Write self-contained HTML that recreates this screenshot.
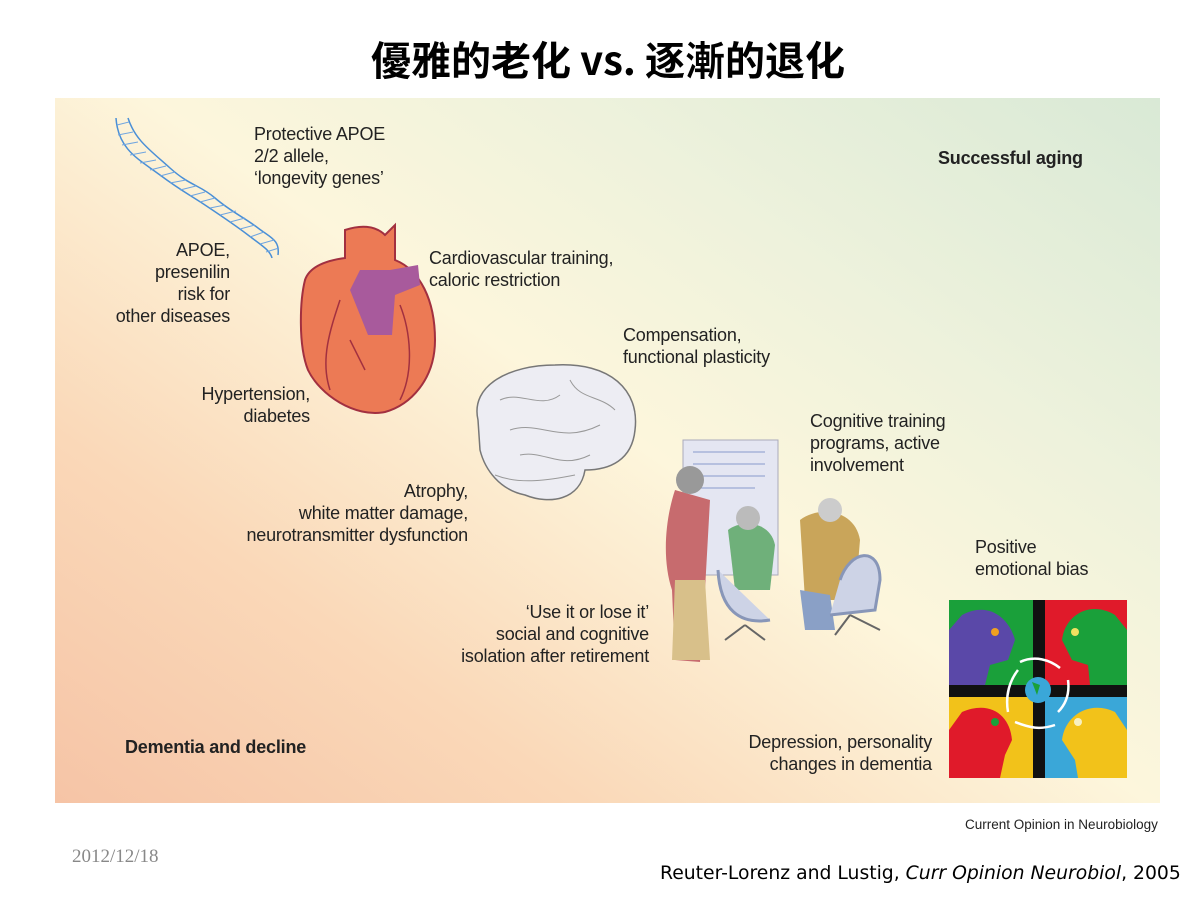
<!DOCTYPE html>
<html><head><meta charset="utf-8">
<style>
*{margin:0;padding:0;box-sizing:border-box}
body{width:1200px;height:900px;background:#fff;position:relative;overflow:hidden;font-family:"Liberation Sans",Arial,sans-serif}
.t{position:absolute;font-size:18px;line-height:22px;color:#222;white-space:nowrap;letter-spacing:-0.2px}
.r{text-align:right}
.b{font-weight:bold;font-size:18px}
#panel{position:absolute;left:55px;top:98px;width:1105px;height:705px;
background:linear-gradient(35deg,#f6c4a6 0%,#fad8b8 25%,#fdf6dc 52%,#eef2dc 72%,#d9e9d6 100%)}
</style></head><body>
<div style="position:absolute;left:0;top:30px;width:1200px;text-align:center;font-family:'Noto Sans CJK SC','WenQuanYi Zen Hei',sans-serif;font-size:40px;font-weight:bold;color:#000;line-height:56px;padding-left:16px">優雅的老化 vs. 逐漸的退化</div>
<div id="panel"></div>
<svg style="position:absolute;left:0;top:0" width="1200" height="900">
 <g fill="none" stroke="#4a8fd6" stroke-width="1.5">
  <path d="M116 118 C118 150 140 160 160 175 S190 195 205 205 S235 225 248 235 S270 250 272 258"/>
  <path d="M128 118 C135 140 150 150 170 168 S200 185 215 198 S245 218 258 228 S280 240 278 255"/>
 </g>
 <g stroke="#6fa5e0" stroke-width="1">
  <path d="M117 125 L129 122 M118 135 L133 132 M122 145 L138 142 M130 155 L146 152 M140 163 L156 160 M150 170 L166 166 M160 176 L175 172 M170 183 L186 180 M180 190 L196 186 M190 196 L205 192 M200 202 L215 198 M210 208 L225 205 M220 215 L236 211 M230 222 L245 218 M240 229 L255 225 M250 237 L264 232 M260 244 L274 240 M266 252 L279 248"/>
 </g>
 <path d="M345 230 C360 225 375 225 385 235 L395 225 L395 260 C420 270 435 300 435 340 C435 380 410 405 385 412 C355 418 320 395 308 370 C298 345 300 300 305 280 C310 265 330 260 345 258 Z" fill="#ec7a55" stroke="#a23040" stroke-width="2"/>
 <path d="M350 290 L360 270 L390 270 L418 265 L420 285 L395 295 L392 335 L368 335 Z" fill="#a85a9c"/>
 <g stroke="#a23040" stroke-width="1.5" fill="none">
  <path d="M340 300 C330 330 320 360 330 390"/><path d="M400 305 C410 330 415 370 400 400"/><path d="M350 340 L365 370"/>
 </g>
 <path d="M478 420 C470 385 510 365 555 365 C610 362 640 390 635 430 C632 460 610 470 585 470 C580 500 550 505 525 495 C500 490 485 470 480 450 Z" fill="#ededf3" stroke="#777" stroke-width="1.5"/>
 <g stroke="#999" fill="none"><path d="M500 400 C520 390 540 410 560 395 M510 430 C540 420 560 445 600 425 M520 455 C545 450 560 470 590 455 M570 380 C580 400 600 395 615 410 M495 475 C520 485 550 480 575 475"/></g>
 <rect x="683" y="440" width="95" height="135" fill="#e4e6f2" stroke="#aab" />
 <g stroke="#8899cc" stroke-width="1"><path d="M693 452 H765 M693 464 H765 M693 476 H765 M693 488 H755"/></g>
 <path d="M675 490 C665 520 662 560 672 590 L675 660 L700 662 L705 590 L710 500 Z" fill="#c76b6e"/>
 <path d="M675 580 L672 660 L710 660 L705 580 Z" fill="#d8c08a"/>
 <circle cx="690" cy="480" r="14" fill="#999"/>
 <path d="M728 530 C740 520 770 520 775 545 L770 590 L735 590 Z" fill="#6fb07a"/>
 <circle cx="748" cy="518" r="12" fill="#bbb"/>
 <path d="M800 520 C820 505 855 510 860 540 L855 600 L805 600 Z" fill="#c9a55a"/>
 <circle cx="830" cy="510" r="12" fill="#ccc"/>
 <path d="M800 590 L805 630 L835 630 L830 595 Z" fill="#8aa0c6"/>
 <path d="M718 570 C720 610 740 625 770 620 M840 580 C850 550 880 545 880 580 L875 610 L830 615" stroke="#8896b8" stroke-width="3" fill="#cdd3e6"/>
 <g stroke="#666" stroke-width="2"><path d="M745 625 L725 640 M745 625 L765 640 M850 615 L835 635 M850 615 L880 630"/></g>
 <g>
  <rect x="949" y="600" width="178" height="178" fill="#111"/>
  <rect x="949" y="600" width="84" height="85" fill="#1aa03a"/>
  <rect x="1045" y="600" width="82" height="85" fill="#e01a2a"/>
  <rect x="949" y="697" width="84" height="81" fill="#f2c21a"/>
  <rect x="1045" y="697" width="82" height="81" fill="#3aa7d8"/>
  <path d="M962 615 C990 600 1010 620 1015 640 L1008 660 L990 665 L985 685 L949 685 L949 630 Z" fill="#5a48a8"/>
  <path d="M1115 615 C1090 600 1065 615 1062 640 L1072 660 L1088 665 L1090 685 L1127 685 L1127 630 Z" fill="#1aa03a"/>
  <path d="M962 712 C990 700 1010 715 1012 740 L1005 755 L1000 778 L949 778 L949 730 Z" fill="#e01a2a"/>
  <path d="M1115 712 C1090 700 1065 715 1062 740 L1075 760 L1078 778 L1127 778 L1127 730 Z" fill="#f2c21a"/>
  <circle cx="1038" cy="690" r="13" fill="#3aa7d8"/>
  <path d="M1032 682 l8 3 l-3 10 z" fill="#1aa03a"/>
  <g stroke="#fff" stroke-width="2.5" fill="none"><path d="M1020 662 C1035 655 1050 660 1060 668 M1068 680 C1070 695 1065 705 1058 712 M1055 725 C1040 730 1030 728 1015 722 M1008 712 C1005 695 1010 680 1018 670"/></g>
  <circle cx="995" cy="632" r="4" fill="#f0a020"/><circle cx="1075" cy="632" r="4" fill="#f0e060"/>
  <circle cx="995" cy="722" r="4" fill="#1aa03a"/><circle cx="1078" cy="722" r="4" fill="#f8f0c0"/>
 </g>
</svg>
<div class="t" style="left:254px;top:123px">Protective APOE<br>2/2 allele,<br>‘longevity genes’</div>
<div class="t b" style="left:938px;top:147px">Successful aging</div>
<div class="t r" style="right:970px;top:239px">APOE,<br>presenilin<br>risk for<br>other diseases</div>
<div class="t" style="left:429px;top:247px">Cardiovascular training,<br>caloric restriction</div>
<div class="t" style="left:623px;top:324px">Compensation,<br>functional plasticity</div>
<div class="t r" style="right:890px;top:383px">Hypertension,<br>diabetes</div>
<div class="t" style="left:810px;top:410px">Cognitive training<br>programs, active<br>involvement</div>
<div class="t r" style="right:732px;top:480px">Atrophy,<br>white matter damage,<br>neurotransmitter dysfunction</div>
<div class="t" style="left:975px;top:536px">Positive<br>emotional bias</div>
<div class="t r" style="right:551px;top:601px">‘Use it or lose it’<br>social and cognitive<br>isolation after retirement</div>
<div class="t b" style="left:125px;top:736px">Dementia and decline</div>
<div class="t r" style="right:268px;top:731px">Depression, personality<br>changes in dementia</div>
<div class="t" style="left:965px;top:817px;font-size:13.5px;line-height:16px;letter-spacing:0">Current Opinion in Neurobiology</div>
<div class="t" style="left:72px;top:846px;font-size:19px;color:#888;font-family:'Liberation Serif',serif;letter-spacing:0">2012/12/18</div>
<div class="t" style="left:660px;top:861px;color:#000;font-family:'DejaVu Sans',sans-serif;font-size:18.8px;line-height:26px;letter-spacing:0">Reuter-Lorenz and Lustig, <i>Curr Opinion Neurobiol</i>, 2005</div>
</body></html>
